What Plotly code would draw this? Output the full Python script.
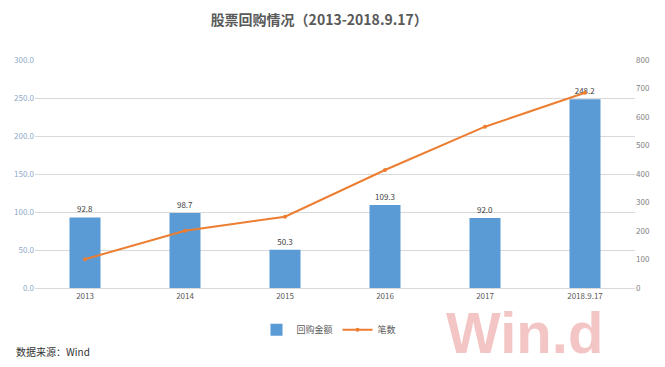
import plotly.graph_objects as go

categories = ["2013", "2014", "2015", "2016", "2017", "2018.9.17"]
amount = [92.8, 98.7, 50.3, 109.3, 92.0, 248.2]
counts = [101, 201, 250, 414, 566, 685]
left_ticks = [0, 50, 100, 150, 200, 250, 300]
right_ticks = [0, 100, 200, 300, 400, 500, 600, 700, 800]

font_cn = "Noto Sans CJK SC"

fig = go.Figure()
fig.add_trace(go.Bar(
    x=categories, y=amount, name="回购金额",
    marker=dict(color="#5b9bd5", line=dict(width=0)),
    text=[f"{v:.1f}" for v in amount], textposition="outside",
    textfont=dict(size=8, color="#404040", family=font_cn),
    cliponaxis=False, yaxis="y",
))
fig.add_trace(go.Scatter(
    x=categories, y=counts, name="笔数", mode="lines+markers",
    line=dict(color="#ed7d31", width=2),
    marker=dict(color="#ed7d31", size=4),
    yaxis="y2",
))

fig.update_layout(
    width=665, height=367,
    margin=dict(l=35, r=30, t=60, b=79),
    paper_bgcolor="white", plot_bgcolor="white",
    font=dict(family=font_cn, color="#595959"),
    title=dict(text="<b>股票回购情况（2013-2018.9.17）</b>", x=0.48, xanchor="center",
               y=0.945, yanchor="middle", font=dict(size=14, color="#595959", family=font_cn)),
    bargap=0.69,
    showlegend=True,
    legend=dict(orientation="h", x=0.49, xanchor="center", y=-0.12, yanchor="top",
                font=dict(size=9, color="#595959", family=font_cn),
                itemwidth=30, traceorder="normal"),
    xaxis=dict(tickfont=dict(size=8, color="#595959"), showgrid=False,
               showline=True, linecolor="#d9d9d9", ticks=""),
    yaxis=dict(range=[0, 300], tickvals=left_ticks, tickformat=".1f",
               tickfont=dict(size=8, color="#8ea9c8"), gridcolor="#d9d9d9",
               zeroline=False, ticks="", ticklen=0),
    yaxis2=dict(range=[0, 800], tickvals=right_ticks, overlaying="y", side="right",
                tickfont=dict(size=8, color="#7f7f7f"), showgrid=False,
                zeroline=False, ticks=""),
    annotations=[
        dict(text="数据来源：Wind", xref="paper", yref="paper", x=-0.035, y=-0.28,
             xanchor="left", yanchor="middle", showarrow=False,
             font=dict(size=10, color="#333333", family=font_cn)),
        dict(text="<b>Win.d</b>", xref="paper", yref="paper", x=0.815, y=-0.195,
             xanchor="center", yanchor="middle", showarrow=False,
             font=dict(size=58, color="rgba(232,140,140,0.5)", family="Liberation Sans")),
    ],
)

fig.write_html("out.html", config={"displayModeBar": False},
               post_script="document.body.style.margin='0';document.body.style.overflow='hidden';")
